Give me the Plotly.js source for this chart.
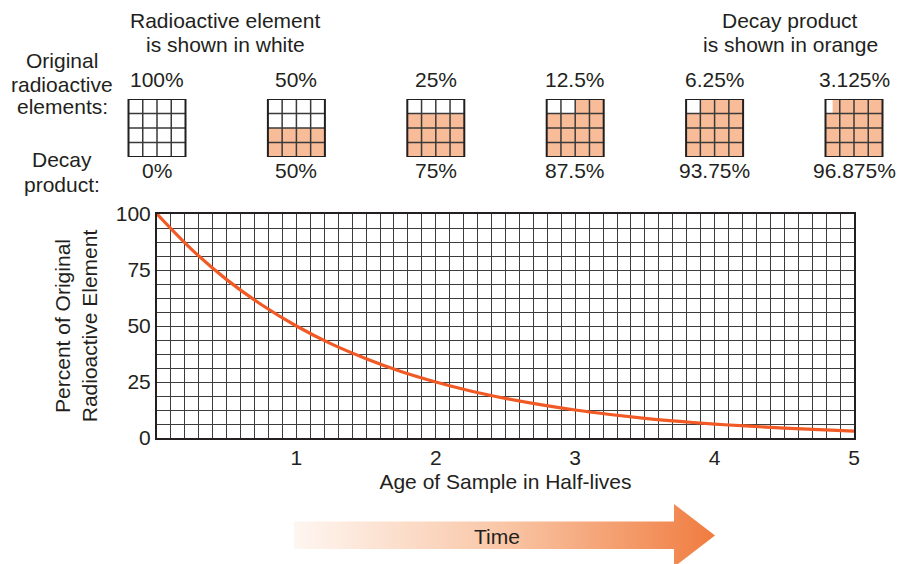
<!DOCTYPE html>
<html>
<head>
<meta charset="utf-8">
<script src="https://cdn.plot.ly/plotly-3.0.1.min.js"></script>
<style>html,body{margin:0;padding:0;background:#fff;}#chart{width:906px;height:564px;}</style>
</head>
<body>
<div id="chart"></div>
<script>
// ---- data ----
var halfLives = [0, 1, 2, 3, 4, 5];
var originalPct = [100, 50, 25, 12.5, 6.25, 3.125];
var decayPct = [0, 50, 75, 87.5, 93.75, 96.875];
var originalLabels = ["100%", "50%", "25%", "12.5%", "6.25%", "3.125%"];
var decayLabels = ["0%", "50%", "75%", "87.5%", "93.75%", "96.875%"];

var curveAge = [0, 0.25, 0.5, 0.75, 1, 1.25, 1.5, 1.75, 2, 2.25, 2.5, 2.75, 3, 3.25, 3.5, 3.75, 4, 4.25, 4.5, 4.75, 5];
var curvePct = [100, 84.1, 70.7, 59.5, 50, 42.0, 35.4, 29.7, 25, 21.0, 17.7, 14.9, 12.5, 10.5, 8.8, 7.4, 6.2, 5.3, 4.4, 3.7, 3.1];

var yTicks = [0, 25, 50, 75, 100];
var xTicks = [1, 2, 3, 4, 5];

// ---- style ----
var FONT = "Liberation Sans, Arial, Helvetica, sans-serif";
var FS = 21;
var TXT = "#231f20";
var ORANGE_FILL = "#f9bc98";
var CURVE = "#f15a24";
var GRID = "#3c3c3c";
var W = 906, H = 564;
var PL = 157, PR = 854;                 // plot area left/right pixels
var unit = (PR - PL) / 5;               // pixels per half-life
function py(p) { return (H - p) / H; }  // pixel row -> paper y
function px(p) { return p / W; }        // pixel col -> paper x

var boxW = 57 / unit; // square width in x-axis units
var cells = 4;

var shapes = [];
halfLives.forEach(function (hl, k) {
  var x0 = hl - boxW / 2, cw = boxW / cells;
  shapes.push({type: "rect", xref: "x2", yref: "y2", x0: x0, x1: x0 + boxW, y0: 0, y1: cells,
    fillcolor: ORANGE_FILL, line: {width: 0}});
  var n = cells * cells * originalPct[k] / 100;
  for (var i = 0; i < Math.ceil(n); i++) {
    var row = Math.floor(i / cells), col = i % cells;
    var frac = Math.min(1, n - i);
    shapes.push({type: "rect", xref: "x2", yref: "y2",
      x0: x0 + col * cw, x1: x0 + col * cw + cw * frac,
      y0: cells - row - 1, y1: cells - row, fillcolor: "#ffffff", line: {width: 0}});
  }
  for (var j = 1; j < cells; j++) {
    shapes.push({type: "line", xref: "x2", yref: "y2", x0: x0 + j * cw, x1: x0 + j * cw, y0: 0, y1: cells,
      line: {color: "#3a3a3a", width: 1.5}});
    shapes.push({type: "line", xref: "x2", yref: "y2", x0: x0, x1: x0 + boxW, y0: j, y1: j,
      line: {color: "#3a3a3a", width: 1.5}});
  }
  shapes.push({type: "rect", xref: "x2", yref: "y2", x0: x0, x1: x0 + boxW, y0: 0, y1: cells,
    line: {color: "#231f20", width: 2}});
});

var annotations = [];
function ann(text, x, y, xref, opts) {
  var a = {text: text, x: x, y: y, xref: xref || "paper", yref: "paper", showarrow: false,
    xanchor: "center", yanchor: "middle", font: {family: FONT, size: FS, color: TXT}};
  for (var k in (opts || {})) a[k] = opts[k];
  annotations.push(a);
}
halfLives.forEach(function (hl, k) {
  ann(originalLabels[k], hl, py(80), "x2");
  ann(decayLabels[k], hl, py(170), "x2");
});
ann("Radioactive element", px(225), py(20));
ann("is shown in white", px(225), py(44));
ann("Decay product", px(790), py(20));
ann("is shown in orange", px(790), py(44));
ann("Original", px(62), py(60));
ann("radioactive", px(62), py(84));
ann("elements:", px(62), py(107));
ann("Decay", px(62), py(160));
ann("product:", px(62), py(184));
ann("Time", px(497), py(536));

// gradient arrow (decoration)
var svg = '<svg xmlns="http://www.w3.org/2000/svg" width="421" height="63" viewBox="0 0 421 63">' +
  '<defs><linearGradient id="g" x1="0" y1="0" x2="1" y2="0">' +
  '<stop offset="0" stop-color="#fef6f1"/><stop offset="0.5" stop-color="#f9c6a6"/>' +
  '<stop offset="1" stop-color="#f07c40"/></linearGradient></defs>' +
  '<path d="M0 17.5 L380 17.5 L380 0 L421 31.5 L380 63 L380 45 L0 45 Z" fill="url(#g)"/></svg>';

var traces = [
  {x: curveAge, y: curvePct, type: "scatter", mode: "lines", line: {color: CURVE, width: 3.2, shape: "spline"},
    cliponaxis: false, hoverinfo: "x+y", showlegend: false},
  {x: halfLives, y: halfLives.map(function () { return 2; }), xaxis: "x2", yaxis: "y2", type: "scatter",
    mode: "markers", marker: {opacity: 0}, hoverinfo: "skip", showlegend: false}
];

var layout = {
  width: W, height: H,
  margin: {l: 0, r: 0, t: 0, b: 0, pad: 0},
  paper_bgcolor: "#ffffff", plot_bgcolor: "#ffffff",
  font: {family: FONT, size: FS, color: TXT},
  showlegend: false,
  xaxis: {
    domain: [PL / W, PR / W],
    range: [0, 5], tickmode: "array", tickvals: xTicks, ticks: "", showgrid: true,
    gridcolor: GRID, gridwidth: 1, zeroline: false,
    minor: {tickmode: "linear", tick0: 0, dtick: 0.1, showgrid: true, gridcolor: GRID, gridwidth: 1},
    showline: true, linecolor: "#231f20", linewidth: 2, mirror: true,
    tickfont: {family: FONT, size: FS, color: TXT},
    title: {text: "Age of Sample in Half-lives", standoff: 6, font: {family: FONT, size: FS, color: TXT}},
    anchor: "y", automargin: false, fixedrange: true
  },
  yaxis: {
    domain: [py(438), py(214)], range: [0, 100], tickmode: "array", tickvals: yTicks, ticks: "",
    showgrid: true, gridcolor: GRID, gridwidth: 1, zeroline: false,
    minor: {tickmode: "linear", tick0: 0, dtick: 6.25, showgrid: true, gridcolor: GRID, gridwidth: 1},
    showline: true, linecolor: "#231f20", linewidth: 2, mirror: true,
    tickfont: {family: FONT, size: FS, color: TXT},
    title: {text: "Percent of Original<br>Radioactive Element", standoff: 12, font: {family: FONT, size: FS, color: TXT}},
    anchor: "x", automargin: false, fixedrange: true
  },
  xaxis2: {
    domain: [0, 1], range: [-PL / unit, (W - PL) / unit], visible: false, showgrid: false,
    anchor: "y2", fixedrange: true
  },
  yaxis2: {
    domain: [py(157), py(99)], range: [0, 4], visible: false, showgrid: false, anchor: "x2", fixedrange: true
  },
  shapes: shapes,
  annotations: annotations,
  images: [{
    source: "data:image/svg+xml;charset=utf-8," + encodeURIComponent(svg),
    xref: "paper", yref: "paper", x: px(294), y: py(504), sizex: 421 / W, sizey: 63 / H,
    xanchor: "left", yanchor: "top", sizing: "stretch", layer: "below"
  }]
};

Plotly.newPlot("chart", traces, layout, {displayModeBar: false, staticPlot: true});
</script>
</body>
</html>
